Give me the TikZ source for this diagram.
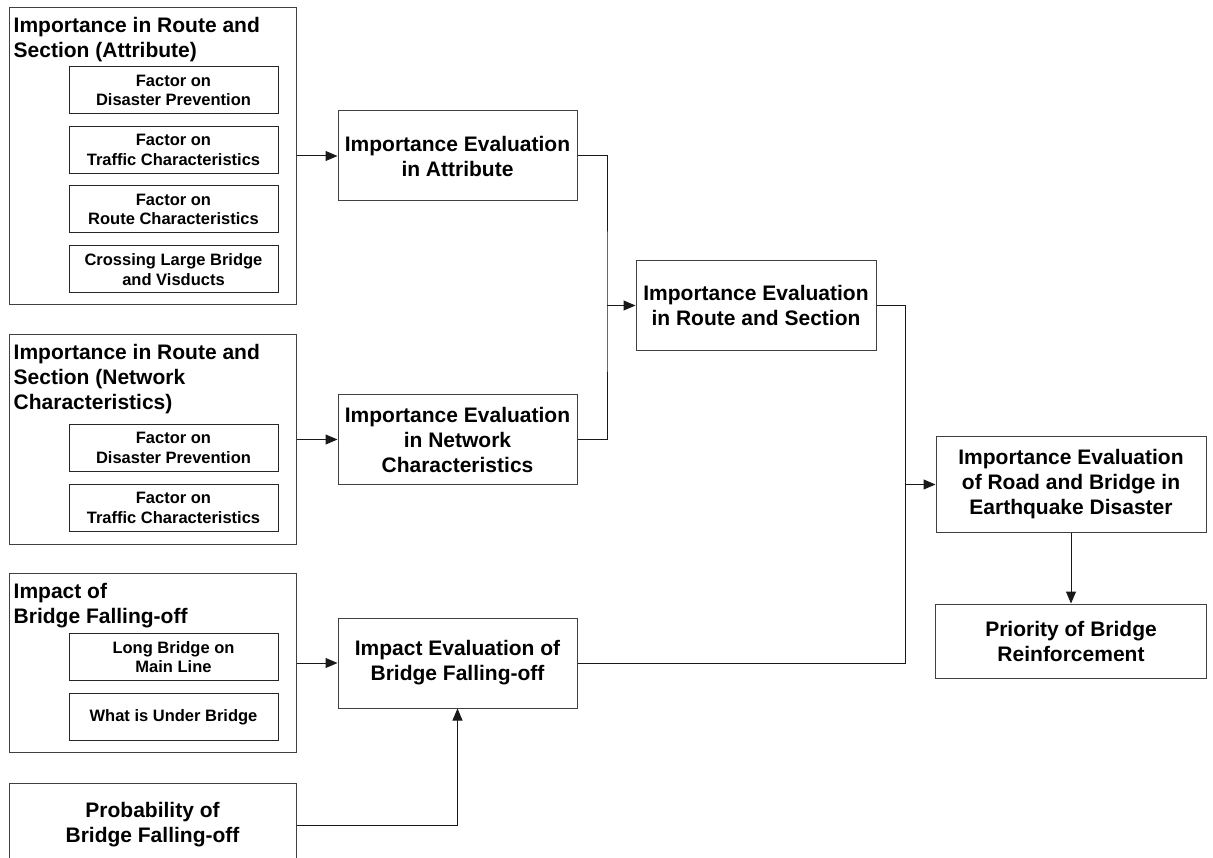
\documentclass[tikz,border=0pt]{standalone}
\usepackage{fontspec}
\setmainfont{Liberation Sans}
\usetikzlibrary{arrows.meta, positioning, calc}
\tikzset{
	grpbox/.style   ={rectangle, draw=black!75, line width=1pt, minimum width=287pt, inner sep=0pt},
	grptitle/.style ={anchor=north west, align=left, inner sep=0pt, font=\fontsize{21}{25}\selectfont\bfseries},
	factor/.style   ={rectangle, draw=black!85, line width=1pt, minimum width=209pt, minimum height=47pt, align=center, inner sep=0pt, font=\fontsize{16.5}{19.5}\selectfont\bfseries},
	evalbox/.style  ={rectangle, draw=black!75, line width=1pt, minimum width=239pt, minimum height=90pt, align=center, inner sep=0pt, font=\fontsize{21}{25}\selectfont\bfseries},
	wire/.style     ={line width=1pt, black!90},
	flowarrow/.style={wire, -{Triangle[length=12pt, width=10pt]}},
}

\begin{document}
\begin{tikzpicture}[x=1pt, y=-1pt]
	\useasboundingbox (0,0) rectangle (1213,858);
	% left groups
	\node[grpbox, minimum height=297pt] (attrgrp) at (152.5,156) {};
	\node[grptitle] (attrttl) at ([xshift=5pt, yshift=-10pt]attrgrp.north west) {Importance in Route and\\Section (Attribute)};
	\node[factor] (attrf1) at (173.5,90.5)  {Factor on\\Disaster Prevention};
	\node[factor] (attrf2) at (173.5,150)   {Factor on\\Traffic Characteristics};
	\node[factor] (attrf3) at (173.5,209.5) {Factor on\\Route Characteristics};
	\node[factor] (attrf4) at (173.5,269.5) {Crossing Large Bridge\\and Visducts};

	\node[grpbox, minimum height=210pt] (netgrp) at (152.5,439.5) {};
	\node[grptitle] (netttl) at ([xshift=5pt, yshift=-10pt]netgrp.north west) {Importance in Route and\\Section (Network\\Characteristics)};
	\node[factor] (netf1) at (173.5,448) {Factor on\\Disaster Prevention};
	\node[factor] (netf2) at (173.5,508) {Factor on\\Traffic Characteristics};

	\node[grpbox, minimum height=179pt] (impgrp) at (152.5,663) {};
	\node[grptitle] (impttl) at ([xshift=5pt, yshift=-10pt]impgrp.north west) {Impact of\\Bridge Falling-off};
	\node[factor] (impf1) at (173.5,657) {Long Bridge on\\Main Line};
	\node[factor] (impf2) at (173.5,717) {What is Under Bridge};

	\node[evalbox, minimum width=287pt, minimum height=84pt] (prob) at (152.5,825) {Probability of\\Bridge Falling-off};

	% evaluation boxes
	\node[evalbox] (attr)   at (457.5,156)   {Importance Evaluation\\in Attribute};
	\node[evalbox] (net)    at (457.5,439.5) {Importance Evaluation\\in Network\\Characteristics};
	\node[evalbox] (impact) at (457.5,663)   {Impact Evaluation of\\Bridge Falling-off};
	\node[evalbox, minimum width=240pt] (route) at (756,305.5) {Importance Evaluation\\in Route and Section};
	\node[evalbox, minimum width=270pt, minimum height=95pt] (quake) at (1071,484.5) {Importance Evaluation\\of Road and Bridge in\\Earthquake Disaster};
	\node[evalbox, minimum width=271pt, minimum height=74pt] (prio) at (1071,641) {Priority of Bridge\\Reinforcement};

	% connectors
	\coordinate (j1) at (607,305.5);
	\coordinate (j2) at (905,484.5);
	\draw[flowarrow] (attrgrp.east) -- (attr.west);
	\draw[flowarrow] (netgrp.east) -- (net.west);
	\draw[flowarrow] (impgrp.east) -- (impact.west);
	\draw[flowarrow] (prob.east) -| (impact.south);
	\draw[wire] (attr.east) -| (j1) |- (net.east);
	\draw[flowarrow] (j1) -- (route.west);
	\draw[wire] (route.east) -| (j2) |- (impact.east);
	\draw[flowarrow] (j2) -- (quake.west);
	\draw[flowarrow] (quake.south) -- (prio.north);
\end{tikzpicture}
\end{document}
